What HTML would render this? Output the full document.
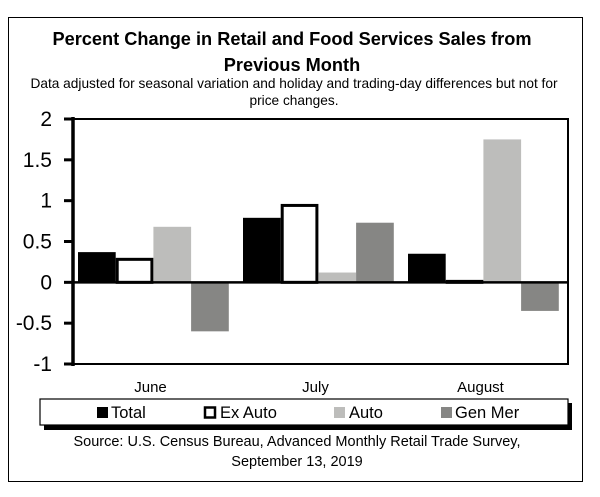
<!DOCTYPE html>
<html><head><meta charset="utf-8"><style>
body{margin:0;background:#fff;width:600px;height:492px;overflow:hidden;font-family:"Liberation Sans",sans-serif}
</style></head><body>
<svg width="600" height="492" xmlns="http://www.w3.org/2000/svg">
<rect x="8.5" y="17.5" width="574" height="464" fill="#fff" stroke="#000" stroke-width="1"/>
<text x="292" y="45" font-size="18.2" font-weight="bold" text-anchor="middle">Percent Change in Retail and Food Services Sales from</text>
<text x="292" y="71" font-size="18.2" font-weight="bold" text-anchor="middle">Previous Month</text>
<text x="294" y="88" font-size="13.7" text-anchor="middle">Data adjusted for seasonal variation and holiday and trading-day differences but not for</text>
<text x="294" y="105" font-size="13.7" text-anchor="middle">price changes.</text>
<g id="plot"></g>
<rect x="44" y="403" width="528" height="27" fill="#000"/>
<rect x="40" y="399" width="528" height="26" fill="#fff" stroke="#000" stroke-width="1.2"/>
<rect x="97" y="407" width="11" height="11" fill="#000"/>
<text x="111" y="418" font-size="16.5">Total</text>
<rect x="205" y="407.5" width="10" height="10" fill="#fff" stroke="#000" stroke-width="2.5"/>
<text x="220" y="418" font-size="16.5">Ex Auto</text>
<rect x="334" y="407" width="11" height="11" fill="#bdbdbb"/>
<text x="349" y="418" font-size="16.5">Auto</text>
<rect x="441" y="407" width="11" height="11" fill="#868684"/>
<text x="455" y="418" font-size="16.5">Gen Mer</text>
<text x="297" y="446" font-size="14.5" text-anchor="middle">Source: U.S. Census Bureau, Advanced Monthly Retail Trade Survey,</text>
<text x="297" y="466" font-size="14.5" text-anchor="middle">September 13, 2019</text>
</svg>
<script>
const categories=["June","July","August"];
const seriesNames=["Total","Ex Auto","Auto","Gen Mer"];
const totalValues=[0.37,0.79,0.35];
const exAutoValues=[0.30,0.96,0.03];
const autoValues=[0.68,0.12,1.75];
const genMerValues=[-0.60,0.73,-0.35];
const yTicks=[2,1.5,1,0.5,0,-0.5,-1];
const yTickLabels=["2","1.5","1","0.5","0","-0.5","-1"];
const NS="http://www.w3.org/2000/svg";
const g=document.getElementById("plot");
const L=73,R=568,T=119,B=364,yMin=-1,yMax=2;
function y(v){return B-(v-yMin)/(yMax-yMin)*(B-T);}
const band=(R-L)/categories.length;
function mk(t,a){const e=document.createElementNS(NS,t);for(const k in a)e.setAttribute(k,a[k]);g.appendChild(e);return e;}
const frame=mk("rect",{x:L,y:T,width:R-L,height:B-T,fill:"#fff",stroke:"#000","stroke-width":2});


const series=[totalValues,exAutoValues,autoValues,genMerValues];
const fills=["#000","#fff","#bdbdbb","#868684"];
const names=["bar-total","bar-ex-auto","bar-auto","bar-gen-mer"];
const bw=37.7;
categories.forEach((c,i)=>{
  series.forEach((s,j)=>{
    const v=s[i];const x0=L+i*band+5+j*bw;
    const top=Math.min(y(v),y(0)),h=Math.abs(y(v)-y(0));
    const a={x:x0,y:top,width:bw,height:h,fill:fills[j]};
    if(j===1){a.stroke="#000";a["stroke-width"]=3;a.x=x0+1.5;a.width=bw-3;a.y=top+1.5;a.height=Math.max(h-1.5,0.5);}
    const r=mk("rect",a);
    
    
  });
  const t=mk("text",{x:L+i*band+band/2-5,y:392,"font-size":15,"text-anchor":"middle"});
  t.textContent=c;
  
  
});
const z=mk("line",{x1:L,x2:R,y1:y(0),y2:y(0),stroke:"#000","stroke-width":2.5});


const ax=mk("line",{x1:L,x2:L,y1:T-2,y2:B+2,stroke:"#000","stroke-width":3.5});


yTicks.forEach((v,i)=>{
  const tk=mk("line",{x1:L-9,x2:L,y1:y(v),y2:y(v),stroke:"#000","stroke-width":3});
  
  
  const t=mk("text",{x:52,y:y(v)+7,"font-size":21,"text-anchor":"end"});
  t.textContent=yTickLabels[i];
  
  
});
</script>
</body></html>
